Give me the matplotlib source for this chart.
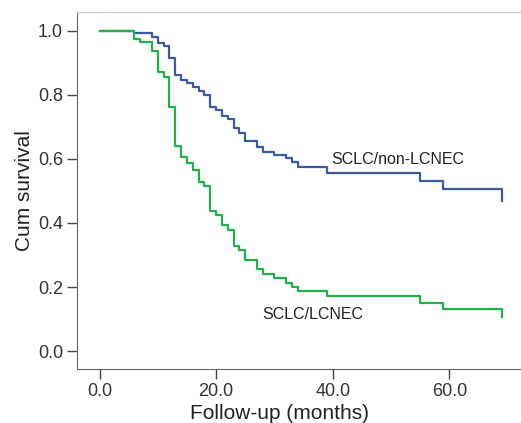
import matplotlib
matplotlib.use("Agg")
import matplotlib.pyplot as plt

plt.rcParams['font.family'] = ['Liberation Sans', 'DejaVu Sans']

# step times (months) for SCLC/non-LCNEC
months = [0, 6, 9, 10, 11, 12, 13, 14, 15, 16, 17, 18, 19, 20, 21, 22, 23, 24,
          25, 27, 28, 30, 32, 33, 34, 39, 55, 59, 69]

# SCLC/non-LCNEC
surv_non = [1.0, 0.993, 0.982, 0.961, 0.953, 0.915, 0.862, 0.847, 0.836, 0.826,
            0.813, 0.800, 0.761, 0.753, 0.735, 0.725, 0.696, 0.682, 0.657,
            0.638, 0.623, 0.612, 0.602, 0.592, 0.576, 0.557, 0.532, 0.506, 0.470]

# SCLC/LCNEC
months_lc = [0, 6, 7, 9, 10, 11, 12, 13, 14, 15, 16, 17, 18, 19, 20, 21, 22, 23,
             24, 25, 27, 28, 30, 32, 33, 34, 39, 55, 59, 69]
surv_lc = [1.0, 0.974, 0.964, 0.938, 0.873, 0.855, 0.761, 0.642, 0.605, 0.586,
           0.566, 0.529, 0.514, 0.438, 0.425, 0.394, 0.378, 0.329, 0.316, 0.284,
           0.255, 0.241, 0.228, 0.214, 0.200, 0.187, 0.172, 0.151, 0.130, 0.105]

xticks = [0, 20, 40, 60]
yticks = [0.0, 0.2, 0.4, 0.6, 0.8, 1.0]

fig = plt.figure(figsize=(5.21, 4.23), dpi=100)
ax = fig.add_axes([0.1478, 0.1277, 0.8522, 0.8439])

blue = '#3b5aa6'
green = '#22b04b'

ax.step(months, surv_non, where='post', color=blue, lw=1.6, zorder=2)
ax.step(months_lc, surv_lc, where='post', color=green, lw=1.6, zorder=3)

ax.text(39.8, 0.598, 'SCLC/non-LCNEC', fontsize=11.5, color='#222222', va='center')
ax.text(28.0, 0.115, 'SCLC/LCNEC', fontsize=11.5, color='#222222', va='center')

ax.set_xlim(-3.86, 72.3)
ax.set_ylim(-0.056, 1.059)
ax.set_xticks(xticks)
ax.set_xticklabels(['%.1f' % v for v in xticks])
ax.set_yticks(yticks)
ax.set_yticklabels(['%.1f' % v for v in yticks])

ax.tick_params(axis='both', labelsize=13, labelcolor='#333333', color='#444444',
               length=7, width=1, direction='out', pad=3)

ax.spines['right'].set_visible(False)
ax.spines['top'].set_color('#cccccc')
ax.spines['left'].set_color('#666666')
ax.spines['bottom'].set_color('#666666')

ax.set_ylabel('Cum survival', fontsize=15, color='#222222', labelpad=3)
fig.text(279 / 521, 1 - 413 / 423, 'Follow-up (months)', fontsize=15,
         color='#222222', ha='center', va='center')

fig.savefig('out.png', dpi=100)
